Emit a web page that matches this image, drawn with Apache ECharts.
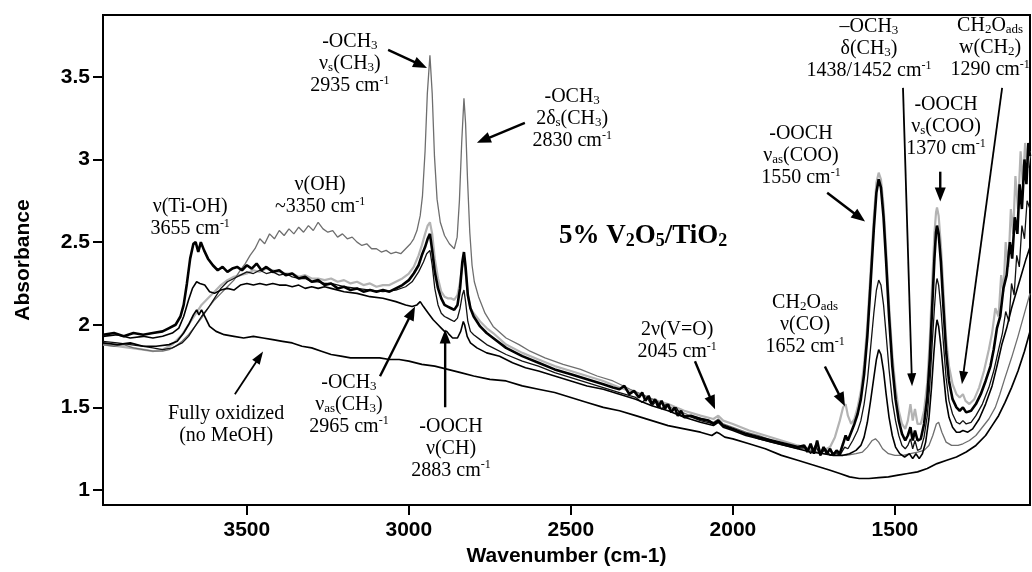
<!DOCTYPE html>
<html>
<head>
<meta charset="utf-8">
<script src="https://cdn.jsdelivr.net/npm/echarts@6/dist/echarts.min.js"></script>
<style>
  html, body { margin: 0; padding: 0; background: #fff; }
  #chart { width: 1032px; height: 572px; }
</style>
</head>
<body>
<div id="chart"></div>
<script>
// Axis ticks
const wavenumberTicks = [3500, 3000, 2500, 2000, 1500];
const absorbanceTicks = [1, 1.5, 2, 2.5, 3, 3.5];

// Spectra: [wavenumber (cm-1), absorbance]
const fullyOxidized = [
  [3944,1.89],[3900,1.88],[3860,1.89],[3820,1.87],[3780,1.87],[3740,1.88],[3715,1.90],[3695,1.95],
  [3680,2.00],[3665,2.06],[3655,2.09],[3648,2.06],[3640,2.09],[3630,2.05],[3615,1.99],[3595,1.96],
  [3570,1.94],[3540,1.93],[3510,1.92],[3480,1.93],[3450,1.92],[3420,1.91],[3390,1.90],[3360,1.89],
  [3330,1.87],[3300,1.86],[3270,1.84],[3240,1.82],[3210,1.81],[3180,1.80],[3150,1.80],[3120,1.80],
  [3090,1.80],[3060,1.79],[3030,1.79],[3000,1.78],[2960,1.76],[2920,1.75],[2880,1.73],[2840,1.71],
  [2800,1.69],[2750,1.67],[2700,1.66],[2650,1.63],[2600,1.61],[2550,1.59],[2500,1.56],[2450,1.53],
  [2400,1.50],[2350,1.48],[2300,1.45],[2250,1.42],[2200,1.39],[2150,1.37],[2100,1.35],[2065,1.33],
  [2050,1.35],[2040,1.34],[2025,1.32],[2000,1.31],[1950,1.28],[1900,1.25],[1850,1.21],[1800,1.18],
  [1750,1.15],[1700,1.12],[1670,1.10],[1640,1.08],[1610,1.07],[1580,1.07],[1550,1.075],[1520,1.08],
  [1490,1.09],[1460,1.10],[1430,1.11],[1400,1.13],[1370,1.16],[1340,1.18],[1310,1.20],[1280,1.23],
  [1250,1.27],[1220,1.33],[1200,1.39],[1180,1.45],[1160,1.53],[1140,1.62],[1120,1.72],[1100,1.84],
  [1083,1.96]
];

const methoxySpectrum = [
  [3944,1.88],[3910,1.87],[3880,1.88],[3850,1.86],[3820,1.85],[3790,1.84],[3760,1.84],[3740,1.85],
  [3720,1.87],[3700,1.90],[3680,1.94],[3660,1.99],[3640,2.04],[3620,2.10],[3600,2.15],[3580,2.19],
  [3560,2.23],[3540,2.27],[3520,2.33],[3505,2.37],[3490,2.42],[3475,2.46],[3460,2.52],[3445,2.49],
  [3430,2.55],[3415,2.52],[3400,2.57],[3385,2.54],[3370,2.58],[3355,2.55],[3340,2.59],[3325,2.56],
  [3310,2.60],[3295,2.57],[3280,2.62],[3265,2.58],[3250,2.56],[3235,2.57],[3220,2.53],[3205,2.55],
  [3190,2.52],[3175,2.53],[3160,2.50],[3145,2.48],[3130,2.49],[3115,2.46],[3100,2.46],[3085,2.44],
  [3070,2.45],[3055,2.43],[3040,2.44],[3025,2.43],[3010,2.46],[2995,2.49],[2985,2.52],[2975,2.57],
  [2965,2.66],[2958,2.78],[2950,3.05],[2943,3.40],[2935,3.63],[2928,3.40],[2921,3.02],[2913,2.76],
  [2903,2.62],[2890,2.54],[2875,2.49],[2860,2.46],[2851,2.53],[2844,2.75],[2837,3.10],[2830,3.37],
  [2825,3.22],[2819,2.88],[2812,2.56],[2805,2.36],[2798,2.26],[2785,2.17],[2765,2.07],[2740,1.99],
  [2700,1.92],[2660,1.88],[2626,1.84],[2580,1.80],[2524,1.76],[2470,1.73],[2419,1.69],[2370,1.66],
  [2317,1.61],[2270,1.57],[2216,1.52],[2170,1.48],[2132,1.45],[2090,1.43],[2060,1.41],[2045,1.43],
  [2030,1.40],[2000,1.38],[1960,1.35],[1920,1.33],[1880,1.30],[1840,1.28],[1800,1.26],[1760,1.24],
  [1720,1.22],[1680,1.21],[1650,1.21],[1620,1.22],[1600,1.23],[1585,1.26],[1570,1.30],[1560,1.31],
  [1550,1.29],[1538,1.25],[1520,1.22],[1500,1.21],[1475,1.21],[1452,1.22],[1430,1.23],[1410,1.24],
  [1395,1.27],[1383,1.33],[1372,1.40],[1365,1.41],[1355,1.35],[1342,1.29],[1325,1.27],[1305,1.27],
  [1290,1.28],[1270,1.30],[1250,1.33],[1230,1.38],[1210,1.43],[1190,1.50],[1176,1.58],[1160,1.68],
  [1140,1.80],[1120,1.93],[1100,2.07],[1083,2.19]
];

const tiOhSpectrum = [
  [3944,1.94],[3910,1.95],[3880,1.93],[3850,1.95],[3820,1.94],[3790,1.95],[3760,1.96],[3740,1.98],
  [3720,2.00],[3705,2.05],[3695,2.12],[3685,2.25],[3675,2.40],[3665,2.49],[3658,2.50],[3650,2.44],
  [3642,2.50],[3632,2.45],[3620,2.40],[3605,2.36],[3590,2.33],[3575,2.35],[3560,2.32],[3545,2.34],
  [3530,2.35],[3515,2.33],[3500,2.36],[3485,2.34],[3470,2.37],[3455,2.33],[3440,2.35],[3420,2.32],
  [3400,2.33],[3380,2.30],[3360,2.31],[3340,2.28],[3320,2.29],[3300,2.26],[3280,2.27],[3260,2.24],
  [3240,2.25],[3220,2.22],[3200,2.23],[3180,2.21],[3160,2.22],[3140,2.20],[3120,2.21],[3100,2.20],
  [3080,2.21],[3060,2.20],[3040,2.22],[3020,2.24],[3000,2.27],[2985,2.31],[2970,2.36],[2960,2.42],
  [2950,2.47],[2942,2.52],[2935,2.55],[2928,2.45],[2920,2.32],[2910,2.22],[2900,2.16],[2890,2.12],
  [2880,2.11],[2870,2.10],[2860,2.09],[2850,2.12],[2842,2.22],[2835,2.38],[2830,2.44],[2825,2.35],
  [2818,2.18],[2810,2.10],[2800,2.05],[2780,1.99],[2760,1.95],[2740,1.92],[2700,1.86],[2650,1.81],
  [2600,1.77],[2550,1.73],[2500,1.70],[2450,1.67],[2400,1.64],[2370,1.62],[2350,1.61],[2335,1.63],
  [2320,1.58],[2305,1.60],[2290,1.56],[2280,1.59],[2270,1.54],[2260,1.57],[2250,1.52],[2240,1.55],
  [2230,1.50],[2220,1.54],[2210,1.49],[2200,1.52],[2190,1.47],[2180,1.50],[2170,1.45],[2160,1.48],
  [2150,1.44],[2130,1.45],[2100,1.43],[2075,1.42],[2060,1.40],[2045,1.42],[2030,1.39],[2000,1.37],
  [1960,1.34],[1920,1.32],[1880,1.30],[1840,1.28],[1800,1.26],[1780,1.27],[1770,1.23],[1760,1.28],
  [1750,1.22],[1740,1.30],[1730,1.21],[1720,1.26],[1710,1.22],[1700,1.25],[1690,1.21],[1680,1.24],
  [1670,1.22],[1660,1.28],[1652,1.33],[1645,1.30],[1635,1.35],[1625,1.40],[1615,1.46],[1605,1.55],
  [1595,1.70],[1585,1.93],[1575,2.25],[1565,2.58],[1557,2.80],[1550,2.88],[1543,2.83],[1535,2.65],
  [1527,2.38],[1518,2.05],[1508,1.75],[1498,1.55],[1488,1.42],[1478,1.34],[1468,1.30],[1460,1.33],
  [1452,1.38],[1445,1.30],[1438,1.36],[1430,1.30],[1420,1.31],[1410,1.40],[1400,1.56],[1392,1.80],
  [1385,2.10],[1378,2.40],[1373,2.56],[1370,2.60],[1365,2.55],[1358,2.38],[1350,2.10],[1342,1.84],
  [1333,1.66],[1322,1.55],[1310,1.50],[1300,1.48],[1290,1.50],[1280,1.47],[1265,1.48],[1250,1.52],
  [1235,1.58],[1220,1.66],[1205,1.75],[1195,1.85],[1185,1.98],[1175,2.05],[1165,2.22],[1155,2.30],
  [1145,2.50],[1138,2.40],[1130,2.65],[1122,2.55],[1115,2.85],[1108,2.70],[1100,3.00],[1094,2.85],
  [1088,3.10],[1083,3.02]
];

const formateSpectrum = [
  [3944,1.88],[3900,1.87],[3860,1.86],[3820,1.85],[3790,1.84],[3760,1.85],[3730,1.88],[3700,1.94],
  [3680,2.00],[3660,2.06],[3640,2.12],[3620,2.16],[3600,2.20],[3580,2.24],[3560,2.27],[3540,2.29],
  [3520,2.30],[3500,2.31],[3480,2.33],[3460,2.32],[3440,2.34],[3420,2.33],[3400,2.32],[3380,2.31],
  [3360,2.31],[3340,2.29],[3320,2.30],[3300,2.28],[3280,2.28],[3260,2.27],[3240,2.28],[3220,2.26],
  [3200,2.27],[3180,2.25],[3160,2.26],[3140,2.24],[3120,2.25],[3100,2.23],[3080,2.24],[3060,2.24],
  [3040,2.26],[3020,2.28],[3000,2.31],[2985,2.35],[2970,2.42],[2960,2.48],[2950,2.55],[2942,2.60],
  [2935,2.62],[2928,2.55],[2920,2.40],[2910,2.28],[2900,2.20],[2890,2.17],[2880,2.16],[2870,2.16],
  [2860,2.15],[2850,2.18],[2842,2.26],[2835,2.36],[2830,2.40],[2825,2.32],[2818,2.18],[2810,2.10],
  [2800,2.07],[2780,2.02],[2760,1.98],[2740,1.95],[2700,1.88],[2650,1.83],[2600,1.79],[2550,1.75],
  [2500,1.72],[2450,1.69],[2400,1.66],[2350,1.62],[2300,1.59],[2250,1.55],[2200,1.52],[2150,1.48],
  [2100,1.45],[2060,1.43],[2045,1.45],[2030,1.42],[2000,1.40],[1950,1.36],[1900,1.33],[1850,1.30],
  [1800,1.27],[1760,1.25],[1720,1.24],[1700,1.26],[1685,1.32],[1670,1.42],[1660,1.50],[1652,1.52],
  [1645,1.45],[1635,1.40],[1625,1.43],[1615,1.50],[1605,1.60],[1595,1.76],[1585,2.00],[1575,2.32],
  [1565,2.65],[1557,2.86],[1550,2.92],[1543,2.88],[1535,2.72],[1527,2.45],[1518,2.12],[1508,1.82],
  [1498,1.62],[1488,1.48],[1478,1.40],[1468,1.37],[1460,1.42],[1452,1.52],[1445,1.42],[1438,1.49],
  [1430,1.40],[1420,1.40],[1410,1.48],[1400,1.65],[1392,1.92],[1385,2.25],[1378,2.55],[1373,2.68],
  [1370,2.71],[1365,2.66],[1358,2.48],[1350,2.20],[1342,1.92],[1333,1.75],[1322,1.64],[1310,1.58],
  [1300,1.56],[1290,1.58],[1282,1.54],[1270,1.52],[1255,1.55],[1240,1.62],[1225,1.72],[1210,1.85],
  [1200,1.95],[1190,2.10],[1180,2.05],[1172,2.30],[1165,2.20],[1158,2.50],[1150,2.35],[1142,2.70],
  [1135,2.55],[1128,2.90],[1120,2.70],[1112,3.05],[1105,2.85],[1098,3.10],[1090,2.95],[1083,3.05]
];

const lowFormateSpectrum = [
  [3944,1.93],[3900,1.94],[3860,1.92],[3820,1.93],[3790,1.92],[3760,1.93],[3730,1.95],[3710,1.98],
  [3695,2.05],[3680,2.15],[3668,2.22],[3655,2.26],[3645,2.25],[3630,2.24],[3615,2.20],[3600,2.19],
  [3580,2.21],[3560,2.22],[3540,2.21],[3520,2.24],[3500,2.25],[3480,2.24],[3460,2.25],[3440,2.24],
  [3420,2.25],[3400,2.24],[3380,2.24],[3360,2.23],[3340,2.24],[3320,2.22],[3300,2.23],[3280,2.22],
  [3260,2.23],[3240,2.22],[3200,2.20],[3160,2.19],[3120,2.17],[3080,2.16],[3040,2.14],[3010,2.12],
  [2990,2.11],[2975,2.12],[2965,2.14],[2955,2.11],[2940,2.07],[2925,2.03],[2910,2.00],[2900,1.98],
  [2890,1.96],[2883,1.96],[2875,1.94],[2865,1.92],[2850,1.92],[2840,1.96],[2832,2.02],[2828,2.00],
  [2820,1.93],[2810,1.89],[2790,1.86],[2760,1.83],[2720,1.81],[2680,1.77],[2640,1.74],[2600,1.72],
  [2550,1.69],[2500,1.66],[2450,1.63],[2400,1.61],[2350,1.58],[2300,1.55],[2250,1.51],[2200,1.48],
  [2150,1.44],[2100,1.41],[2060,1.39],[2045,1.41],[2030,1.38],[2000,1.36],[1960,1.33],[1920,1.31],
  [1880,1.29],[1840,1.27],[1800,1.25],[1760,1.23],[1720,1.22],[1690,1.21],[1660,1.21],[1640,1.22],
  [1620,1.24],[1605,1.27],[1595,1.32],[1585,1.41],[1575,1.54],[1565,1.68],[1557,1.79],[1550,1.85],
  [1543,1.82],[1535,1.72],[1527,1.58],[1518,1.44],[1508,1.33],[1498,1.26],[1485,1.22],[1470,1.20],
  [1455,1.22],[1445,1.19],[1435,1.22],[1425,1.19],[1415,1.22],[1405,1.29],[1395,1.43],[1387,1.62],
  [1380,1.82],[1374,1.97],[1370,2.03],[1365,1.99],[1358,1.87],[1350,1.70],[1342,1.54],[1333,1.44],
  [1322,1.38],[1310,1.35],[1300,1.35],[1290,1.36],[1275,1.35],[1260,1.37],[1240,1.43],[1220,1.52],
  [1200,1.63],[1185,1.75],[1170,1.88],[1155,1.98],[1140,2.10],[1125,2.20],[1110,2.30],[1095,2.40],
  [1083,2.47]
];

const midFormateSpectrum = [
  [3944,1.90],[3900,1.89],[3860,1.88],[3820,1.87],[3790,1.86],[3760,1.85],[3730,1.86],[3700,1.89],
  [3680,1.93],[3660,1.99],[3640,2.05],[3620,2.10],[3600,2.16],[3580,2.22],[3560,2.26],[3540,2.28],
  [3520,2.30],[3500,2.32],[3480,2.31],[3460,2.33],[3440,2.31],[3420,2.32],[3400,2.30],[3380,2.31],
  [3360,2.29],[3340,2.28],[3320,2.28],[3300,2.26],[3280,2.26],[3260,2.25],[3240,2.25],[3200,2.23],
  [3160,2.22],[3120,2.21],[3080,2.20],[3040,2.21],[3010,2.23],[2990,2.26],[2970,2.32],[2955,2.38],
  [2945,2.43],[2935,2.45],[2928,2.36],[2920,2.22],[2910,2.12],[2900,2.07],[2890,2.05],[2880,2.04],
  [2870,2.03],[2860,2.02],[2850,2.04],[2842,2.10],[2835,2.18],[2830,2.21],[2825,2.14],[2818,2.02],
  [2810,1.96],[2800,1.94],[2780,1.91],[2760,1.88],[2740,1.86],[2700,1.82],[2650,1.78],[2600,1.75],
  [2550,1.71],[2500,1.68],[2450,1.65],[2400,1.62],[2350,1.59],[2300,1.56],[2280,1.53],[2265,1.56],
  [2250,1.51],[2235,1.54],[2220,1.49],[2205,1.52],[2190,1.47],[2175,1.50],[2160,1.45],[2140,1.45],
  [2100,1.42],[2060,1.40],[2045,1.42],[2030,1.39],[2000,1.37],[1960,1.34],[1920,1.31],[1880,1.29],
  [1840,1.27],[1800,1.25],[1775,1.26],[1760,1.22],[1745,1.27],[1730,1.21],[1715,1.25],[1700,1.21],
  [1685,1.23],[1670,1.21],[1655,1.26],[1645,1.25],[1630,1.30],[1615,1.36],[1605,1.42],[1595,1.52],
  [1585,1.66],[1575,1.86],[1565,2.07],[1557,2.21],[1550,2.27],[1543,2.24],[1535,2.12],[1527,1.94],
  [1518,1.73],[1508,1.54],[1498,1.42],[1488,1.33],[1478,1.27],[1468,1.25],[1460,1.27],[1452,1.31],
  [1445,1.25],[1438,1.30],[1430,1.24],[1420,1.25],[1410,1.32],[1400,1.45],[1392,1.64],[1385,1.88],
  [1378,2.10],[1373,2.24],[1370,2.28],[1365,2.24],[1358,2.10],[1350,1.88],[1342,1.68],[1333,1.54],
  [1322,1.46],[1310,1.41],[1300,1.40],[1290,1.42],[1280,1.40],[1265,1.41],[1250,1.45],[1230,1.52],
  [1210,1.62],[1195,1.72],[1180,1.85],[1168,1.95],[1158,2.08],[1148,2.02],[1140,2.25],[1132,2.18],
  [1124,2.42],[1116,2.35],[1108,2.60],[1100,2.52],[1092,2.75],[1083,2.70]
];

// Band assignments: text block (first-line centre) and arrows, in data units
const bandLabels = [
  { at: [3675, 2.715], text: 'ν(Ti-OH)\n3655 cm{p|-1}' },
  { at: [3274, 2.847], text: 'ν(OH)\n~3350 cm{p|-1}' },
  { at: [3182, 3.711], text: '-OCH{s|3}\nν{s|s}(CH{s|3})\n2935 cm{p|-1}' },
  { at: [2496, 3.379], text: '-OCH{s|3}\n2δ{s|s}(CH{s|3})\n2830 cm{p|-1}' },
  { at: [1790, 3.155], text: '-OOCH\nν{s|as}(COO)\n1550 cm{p|-1}' },
  { at: [1580, 3.802], text: '–OCH{s|3}\nδ(CH{s|3})\n1438/1452 cm{p|-1}' },
  { at: [1206, 3.808], text: 'CH{s|2}O{s|ads}\nw(CH{s|2})\n1290 cm{p|-1}' },
  { at: [1342, 3.330], text: '-OOCH\nν{s|s}(COO)\n1370 cm{p|-1}' },
  { at: [1777, 2.135], text: 'CH{s|2}O{s|ads}\nν(CO)\n1652 cm{p|-1}' },
  { at: [2172, 1.972], text: '2ν(V=O)\n2045 cm{p|-1}' },
  { at: [3564, 1.459], text: 'Fully oxidized\n(no MeOH)' },
  { at: [3185, 1.652], text: '-OCH{s|3}\nν{s|as}(CH{s|3})\n2965 cm{p|-1}' },
  { at: [2870, 1.386], text: '-OOCH\nν(CH)\n2883 cm{p|-1}' }
];
const sampleLabel = { at: [2277, 2.539], text: '{b|5% V}{bs|2}{b|O}{bs|5}{b|/TiO}{bs|2}' };

const bandArrows = [
  { from: [3064, 3.663], to: [2944, 3.554] },
  { from: [2642, 3.222], to: [2790, 3.101] },
  { from: [1709, 2.799], to: [1592, 2.624] },
  { from: [1475, 3.433], to: [1447, 1.628], thin: true },
  { from: [1169, 3.433], to: [1293, 1.640], thin: true },
  { from: [1360, 2.926], to: [1360, 2.745] },
  { from: [1716, 1.748], to: [1654, 1.507] },
  { from: [2117, 1.779], to: [2055, 1.489] },
  { from: [3537, 1.579], to: [3450, 1.839], thin: true },
  { from: [3089, 1.688], to: [2981, 2.111] },
  { from: [2888, 1.501], to: [2888, 1.972] }
];

const spectra = [
  { data: formateSpectrum, color: '#b3b3b3', width: 2.2 },
  { data: methoxySpectrum, color: '#6e6e6e', width: 1.3 },
  { data: midFormateSpectrum, color: '#111111', width: 1.3 },
  { data: lowFormateSpectrum, color: '#000000', width: 1.6 },
  { data: fullyOxidized, color: '#000000', width: 1.7 },
  { data: tiOhSpectrum, color: '#000000', width: 2.6 }
];

const chart = echarts.init(document.getElementById('chart'), null, { renderer: 'canvas' });

const axisFont = { fontFamily: 'Liberation Sans, Arial, sans-serif', fontWeight: 'bold', fontSize: 21, color: '#000' };

chart.setOption({
  animation: false,
  backgroundColor: '#fff',
  grid: { left: 103, top: 15, right: 2, bottom: 66, show: true, borderColor: '#000', borderWidth: 2, backgroundColor: 'transparent' },
  xAxis: {
    type: 'value', inverse: true, min: 1083, max: 3944,
    name: 'Wavenumber (cm-1)', nameLocation: 'middle', nameGap: 33,
    nameTextStyle: axisFont,
    axisLine: { show: true, lineStyle: { color: '#000', width: 2 } },
    axisTick: { show: true, length: 10, lineStyle: { color: '#000', width: 2 }, customValues: wavenumberTicks },
    axisLabel: Object.assign({ margin: 15, customValues: wavenumberTicks, formatter: v => String(v) }, axisFont),
    splitLine: { show: false }
  },
  yAxis: {
    type: 'value', min: 0.909, max: 3.874,
    name: 'Absorbance', nameLocation: 'middle', nameGap: 69, nameRotate: 90,
    nameTextStyle: axisFont,
    axisLine: { show: true, lineStyle: { color: '#000', width: 2 } },
    axisTick: { show: true, length: 10, lineStyle: { color: '#000', width: 2 }, customValues: absorbanceTicks },
    axisLabel: Object.assign({ margin: 13, customValues: absorbanceTicks, formatter: v => String(v) }, axisFont),
    splitLine: { show: false }
  },
  series: spectra.map(s => ({
    type: 'line', data: s.data, showSymbol: false, symbol: 'none', silent: true,
    lineStyle: { color: s.color, width: s.width }, itemStyle: { color: s.color }
  }))
});

// Annotations placed through the axis scales
const toPx = p => chart.convertToPixel({ gridIndex: 0 }, p);
const serif = 'Liberation Serif, Times New Roman, serif';
const richStyles = {
  s: { fontSize: 13, fontFamily: serif, fill: '#000', padding: [8, 0, 0, 0], lineHeight: 22 },
  p: { fontSize: 12, fontFamily: serif, fill: '#000', padding: [0, 0, 10, 0], lineHeight: 22 },
  b: { fontSize: 27, fontWeight: 'bold', fontFamily: serif, fill: '#000', lineHeight: 30 },
  bs: { fontSize: 18, fontWeight: 'bold', fontFamily: serif, fill: '#000', padding: [11, 0, 0, 0], lineHeight: 30 }
};

const graphics = [];
bandLabels.forEach(l => {
  const [x, y] = toPx(l.at);
  graphics.push({
    type: 'text', x: x, y: y - 11, silent: true, z: 100,
    style: { text: l.text, rich: richStyles, fontSize: 20, fontFamily: serif, fill: '#000', lineHeight: 22, align: 'center', verticalAlign: 'top' }
  });
});
{
  const [x, y] = toPx(sampleLabel.at);
  graphics.push({
    type: 'text', x: x, y: y, silent: true, z: 100,
    style: { text: sampleLabel.text, rich: richStyles, fontSize: 27, fontWeight: 'bold', fontFamily: serif, fill: '#000', align: 'center', verticalAlign: 'middle' }
  });
}
bandArrows.forEach(a => {
  const [x1, y1] = toPx(a.from);
  const [x2, y2] = toPx(a.to);
  const dx = x2 - x1, dy = y2 - y1, len = Math.hypot(dx, dy);
  const ux = dx / len, uy = dy / len, nx = -uy, ny = ux;
  const hl = a.thin ? 13 : 14, hw = a.thin ? 4.5 : 5.5;
  const bx = x2 - ux * hl, by = y2 - uy * hl;
  graphics.push({
    type: 'line', silent: true, z: 100,
    shape: { x1: x1, y1: y1, x2: bx + ux * 1, y2: by + uy * 1 },
    style: { stroke: '#000', lineWidth: a.thin ? 1.8 : 2.4 }
  });
  graphics.push({
    type: 'polygon', silent: true, z: 100,
    shape: { points: [[x2, y2], [bx + nx * hw, by + ny * hw], [bx - nx * hw, by - ny * hw]] },
    style: { fill: '#000' }
  });
});
chart.setOption({ graphic: graphics });
</script>
</body>
</html>
